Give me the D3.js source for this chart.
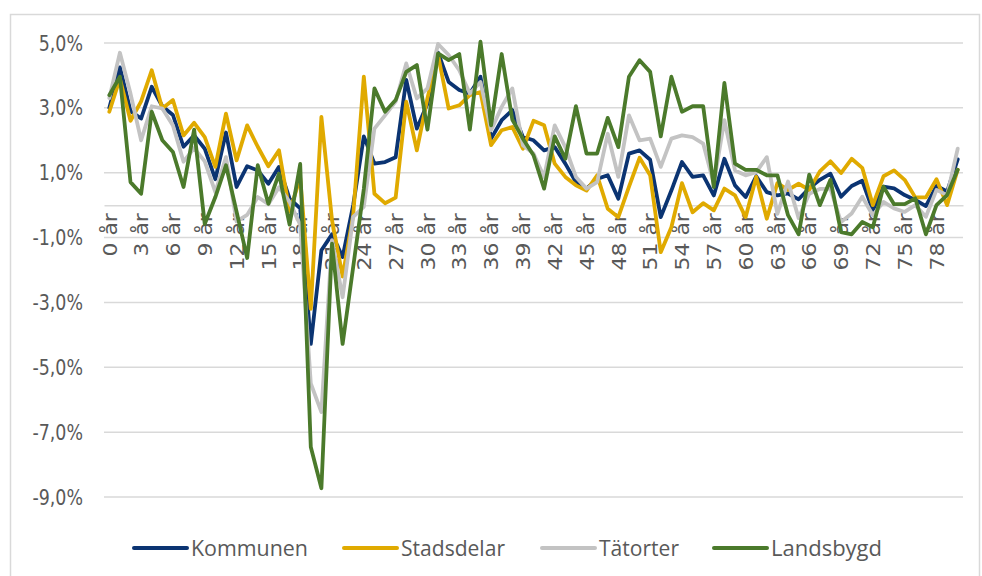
<!DOCTYPE html>
<html>
<head>
<meta charset="utf-8">
<script src="https://cdn.jsdelivr.net/npm/d3@7"></script>
<style>
  body { margin: 0; background: #fff; }
  text { font-family: "Liberation Sans Narrow", "DejaVu Sans Condensed", "Open Sans", sans-serif; fill: #595959; }
  .legend text { font-family: "Open Sans", "Noto Sans", sans-serif; }
</style>
</head>
<body>
<svg width="982" height="576"></svg>
<script>
// age categories 0 år .. 80 år
var ages = d3.range(0, 81).map(function(a){ return a + " år"; });

var kommunen = [3.0, 4.25, 2.9, 2.67, 3.65, 3.05, 2.78, 1.8, 2.15, 1.74,
  0.8, 2.24, 0.56, 1.2, 1.07, 0.66, 1.18, 0.2, -0.1, -4.28,
  -1.39, -0.9, -1.6, 0.0, 2.12, 1.28, 1.33, 1.48, 3.86, 2.36,
  3.13, 4.7, 3.8, 3.55, 3.44, 3.96, 2.05, 2.62, 2.93, 2.1,
  2.0, 1.69, 1.79, 1.28, 0.71, 0.51, 0.81, 0.92, 0.2, 1.59,
  1.69, 1.4, -0.37, 0.45, 1.33, 0.87, 0.92, 0.3, 1.43, 0.61,
  0.25, 0.89, 0.4, 0.3, 0.36, 0.18, 0.52, 0.78, 0.97, 0.26,
  0.59, 0.75, -0.16, 0.57, 0.52, 0.31, 0.16, -0.03, 0.59, 0.42,
  1.41];

var stadsdelar = [2.88, 3.9, 2.6, 3.2, 4.16, 2.98, 3.24, 2.15, 2.54, 2.1,
  1.18, 2.82, 1.38, 2.46, 1.8, 1.2, 1.69, -0.2, 0.85, -3.2,
  2.72, -0.46, -2.2, -0.3, 3.96, 0.35, 0.06, 0.23, 3.19, 1.69,
  3.3, 4.63, 2.98, 3.08, 3.39, 3.49, 1.85, 2.31, 2.41, 1.74,
  2.6, 2.46, 1.28, 0.87, 0.61, 0.45, 0.92, -0.11, -0.37, 0.56,
  1.46, 0.92, -1.45, -0.68, 0.68, -0.22, 0.06, -0.16, 0.51, 0.3,
  -0.37, 0.87, -0.42, 0.68, 0.47, 0.66, 0.47, 1.04, 1.35, 0.99,
  1.43, 1.15, 0.0, 0.89, 1.07, 0.78, 0.24, 0.24, 0.8, 0.0,
  1.09];

var tatorter = [3.3, 4.7, 3.44, 2.0, 3.05, 2.98, 2.46, 1.34, 1.76, 1.35,
  0.4, 1.48, -0.5, -0.3, 0.25, 0.03, 0.55, 0.1, -0.6, -5.5,
  -6.38, -1.08, -2.84, -0.36, -0.05, 2.36, 2.77, 3.19, 4.37, 3.29,
  3.6, 4.97, 4.63, 4.16, 3.44, 3.8, 2.31, 3.03, 3.6, 1.85,
  1.59, 0.87, 2.46, 1.79, 0.87, 0.51, 0.71, 2.2, 0.87, 2.77,
  2.0, 2.05, 1.18, 2.05, 2.15, 2.1, 1.9, 0.66, 2.62, 1.07,
  0.92, 1.02, 1.48, -0.27, 0.73, -0.4, 0.35, 0.5, 0.5, -0.52,
  -0.26, 0.26, -0.31, 0.1, -0.1, -0.21, 0.0, -0.36, 0.47, 0.31,
  1.74];

var landsbygd = [3.39, 3.96, 0.71, 0.35, 2.88, 2.0, 1.64, 0.56, 2.33, -0.58,
  0.25, 1.23, -0.2, -1.63, 1.23, 0.04, 0.97, -0.6, 1.27, -7.46,
  -8.73, -1.19, -4.28, -1.9, 0.5, 3.6, 2.88, 3.24, 4.11, 4.32,
  2.33, 4.68, 4.47, 4.66, 2.33, 5.04, 2.46, 4.66, 2.64, 2.05,
  1.54, 0.51, 2.12, 1.43, 3.05, 1.59, 1.59, 2.69, 1.79, 3.96,
  4.47, 4.11, 2.12, 3.96, 2.88, 3.05, 3.05, 0.56, 3.77, 1.28,
  1.09, 1.09, 0.92, 0.92, -0.31, -0.9, 0.94, 0.0, 0.78, -0.83,
  -0.9, -0.52, -0.68, 0.57, 0.03, 0.03, 0.21, -0.9, 0.0, 0.31,
  1.09];

var seriesNames = ["Kommunen", "Stadsdelar", "Tätorter", "Landsbygd"];
var seriesColors = ["#0b3472", "#e0aa00", "#c3c3c3", "#4b7a2b"];
var yTicks = [-9, -7, -5, -3, -1, 1, 3, 5];

var series = [kommunen, stadsdelar, tatorter, landsbygd].map(function(vals, i){
    return {name: seriesNames[i], color: seriesColors[i], values: vals};
});

var svg = d3.select("svg");

// outer frame
svg.append("rect")
    .attr("x", 10.5).attr("y", 14.5)
    .attr("width", 969).attr("height", 600)
    .attr("fill", "none").attr("stroke", "#d9d9d9").attr("stroke-width", 1.5);

var x = d3.scaleBand().domain(ages).range([104, 963]);
var y = d3.scaleLinear().domain([-9, 5]).range([497, 43]);

var sv = d3.formatLocale({decimal: ",", thousands: " ", grouping: [3], currency: ["", " kr"], minus: "-"});
var fmt = sv.format(".1f");

// squeeze/stretch a text to a given factor of its natural length
function fitText(sel, factor){
    sel.each(function(){
        var len = this.getComputedTextLength();
        d3.select(this).attr("textLength", len * factor).attr("lengthAdjust", "spacingAndGlyphs");
    });
}

// gridlines
svg.append("g")
    .selectAll("line")
    .data(yTicks)
    .enter()
    .append("line")
    .attr("x1", 104).attr("x2", 963)
    .attr("y1", function(d){ return y(d); })
    .attr("y2", function(d){ return y(d); })
    .attr("stroke", "#d9d9d9").attr("stroke-width", 1.5);

// y axis labels
var yAxis = svg.append("g")
    .attr("transform", "translate(104,0)")
    .call(d3.axisLeft(y).tickValues(yTicks).tickSize(0).tickPadding(21)
        .tickFormat(function(d){ return fmt(d) + "%"; }));
yAxis.select(".domain").remove();
yAxis.selectAll("text").style("font-size", "22px").attr("fill", "#595959");
fitText(yAxis.selectAll("text"), 0.88);

// category axis at 0
var xAxis = svg.append("g")
    .attr("transform", "translate(0," + y(0) + ")")
    .call(d3.axisBottom(x).tickSize(0)
        .tickValues(ages.filter(function(d, i){ return i % 3 == 0; })));
xAxis.select(".domain").attr("stroke", "#d9d9d9").attr("stroke-width", 1.5);
var xt = xAxis.selectAll("text")
    .style("font-size", "20px")
    .attr("fill", "#595959")
    .attr("text-anchor", "end")
    .attr("transform", "rotate(-90)")
    .attr("x", -8).attr("y", 0).attr("dy", "0.36em");
fitText(xt, 1.22);

// lines
var line = d3.line()
    .x(function(d, i){ return x(ages[i]) + x.bandwidth() / 2; })
    .y(function(d){ return y(d); });

svg.append("g")
    .selectAll("path")
    .data(series)
    .enter()
    .append("path")
    .attr("d", function(d){ return line(d.values); })
    .attr("fill", "none")
    .attr("stroke", function(d){ return d.color; })
    .attr("stroke-width", 3.8)
    .attr("stroke-linejoin", "round")
    .attr("stroke-linecap", "round");

// legend
var legendX = [133, 343, 541, 713];
var legendW = [117, 104, 80, 111];
var lg = svg.append("g")
    .attr("class", "legend")
    .selectAll("g")
    .data(series)
    .enter()
    .append("g")
    .attr("transform", function(d, i){ return "translate(" + legendX[i] + ",548)"; });
lg.append("line")
    .attr("x1", 1).attr("x2", 54)
    .attr("stroke", function(d){ return d.color; })
    .attr("stroke-width", 4)
    .attr("stroke-linecap", "round");
lg.append("text")
    .attr("x", 58).attr("dy", "0.36em")
    .style("font-size", "22px")
    .attr("textLength", function(d, i){ return legendW[i]; })
    .attr("lengthAdjust", "spacingAndGlyphs")
    .text(function(d){ return d.name; });
</script>
</body>
</html>
